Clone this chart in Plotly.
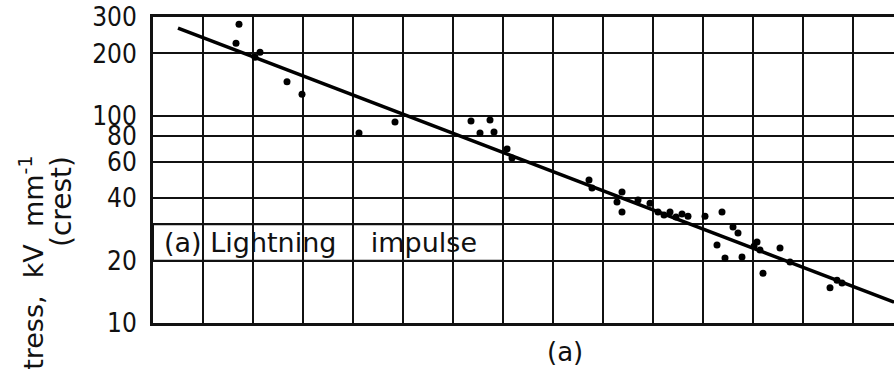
import plotly.graph_objects as go
import numpy as np

# Scatter data (x in grid units, y in kV/mm)
pts_x = [1.66, 1.72, 2.04, 2.14, 2.68, 2.98, 4.12, 4.84, 6.36, 6.74, 6.54, 6.82, 7.08, 7.18,
         8.72, 8.78, 9.38, 9.28, 9.38, 9.70, 9.94, 10.10, 10.22, 10.34, 10.46, 10.58, 10.70,
         11.04, 11.38, 11.60, 11.70, 11.28, 11.44, 11.78, 12.08, 12.14, 12.54, 12.20, 12.74,
         13.68, 13.54, 13.78, 12.02]
pts_y = [224, 277, 192, 203, 146, 127, 82.6, 93.3, 94.4, 95.5, 82.6, 83.5, 69.2, 62.6,
         49.0, 44.8, 42.9, 38.4, 34.3, 39.2, 37.9, 34.3, 33.2, 34.3, 32.5, 33.6, 32.8,
         32.8, 34.3, 29.1, 27.2, 23.8, 20.6, 20.8, 24.6, 22.5, 23.0, 17.4, 19.7,
         16.1, 14.8, 15.6, 23.5]

# Fitted line endpoints
fit_x = [0.5, 14.82]
fit_y = [265.4, 12.6]

y_tickvals = [10, 20, 30, 40, 60, 80, 100, 200, 300]
y_ticktext = ["10", "20", "", "40", "60", "80", "100", "200", "300"]

X_MAX = 14.82
Y_LOG_MIN, Y_LOG_MAX = 1.0, float(np.log10(300))

def ypaper(v):
    return (np.log10(v) - Y_LOG_MIN) / (Y_LOG_MAX - Y_LOG_MIN)

fig = go.Figure()
fig.add_trace(go.Scatter(x=fit_x, y=fit_y, mode="lines",
                         line=dict(color="black", width=3.5), showlegend=False))
fig.add_trace(go.Scatter(x=pts_x, y=pts_y, mode="markers",
                         marker=dict(color="black", size=7), showlegend=False))

# label box covering vertical grid lines
fig.add_shape(type="rect", xref="x", yref="paper", x0=0, x1=7.0,
              y0=ypaper(20), y1=ypaper(30), fillcolor="white",
              line=dict(color="#111", width=2), layer="below")

fig.add_annotation(text="(a) Lightning    impulse", xref="paper", yref="paper",
                   x=0.012, y=(ypaper(20) + ypaper(30)) / 2, xanchor="left", yanchor="middle",
                   showarrow=False, font=dict(size=27, color="#111", family="DejaVu Sans"))
fig.add_annotation(text="(a)", xref="paper", yref="paper",
                   x=(565 - 153) / 741, y=(323 - 352) / 306, xanchor="center", yanchor="middle",
                   showarrow=False, font=dict(size=26, color="#111", family="DejaVu Sans"))
fig.add_annotation(text="Stress,  kV  mm<sup>-1</sup>", xref="paper", yref="paper",
                   x=(31 - 153) / 741, y=(323 - 272) / 306, xanchor="center", yanchor="middle",
                   textangle=-90, showarrow=False,
                   font=dict(size=27, color="#111", family="DejaVu Sans"))
fig.add_annotation(text="(crest)", xref="paper", yref="paper",
                   x=(61 - 153) / 741, y=(323 - 202) / 306, xanchor="center", yanchor="middle",
                   textangle=-90, showarrow=False,
                   font=dict(size=28, color="#111", family="DejaVu Sans"))

fig.update_layout(
    width=894, height=371,
    margin=dict(l=153, r=0, t=17, b=48),
    paper_bgcolor="white", plot_bgcolor="white",
    xaxis=dict(range=[0, X_MAX], dtick=1, tick0=0, showgrid=True, gridcolor="#111", gridwidth=2,
               showticklabels=False, ticks="", showline=True, linecolor="#111", linewidth=3,
               mirror=True, zeroline=False),
    yaxis=dict(type="log", range=[Y_LOG_MIN, Y_LOG_MAX], tickvals=y_tickvals, ticktext=y_ticktext,
               showgrid=True, gridcolor="#111", gridwidth=2, showline=True, linecolor="#111",
               linewidth=3, ticks="", ticklabelstandoff=8, zeroline=False,
               tickfont=dict(size=26, color="#111", family="DejaVu Sans Condensed, DejaVu Sans")),
)

fig.write_html("out.html")
